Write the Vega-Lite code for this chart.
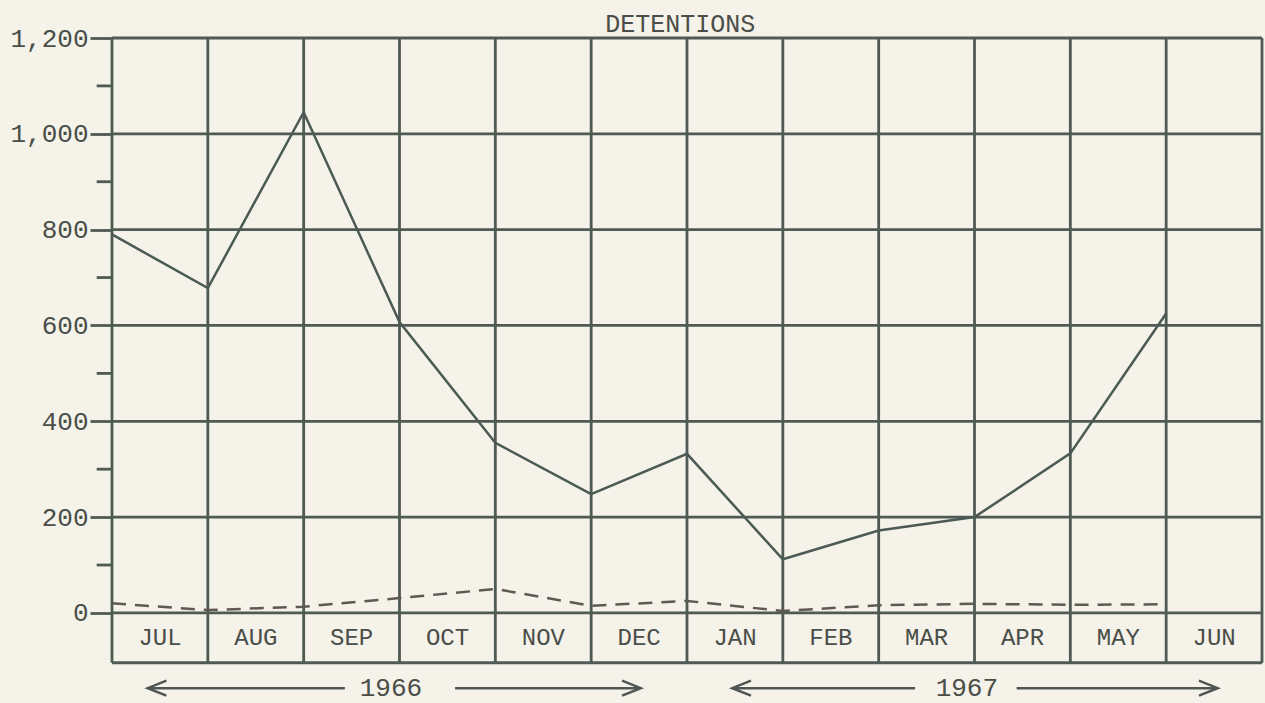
{
  "$schema": "https://vega.github.io/schema/vega-lite/v6.json",
  "autosize": "none",
  "width": 1150,
  "height": 665,
  "padding": {"left": 112, "top": 38, "right": 3, "bottom": 0},
  "background": "#f4f2e9",
  "config": {"view": {"stroke": null}},
  "datasets": {
    "months": [
      {"month": "JUL", "order": 0, "total": 790, "other": 20},
      {"month": "AUG", "order": 1, "total": 678, "other": 6},
      {"month": "SEP", "order": 2, "total": 1045, "other": 13},
      {"month": "OCT", "order": 3, "total": 607, "other": 31},
      {"month": "NOV", "order": 4, "total": 355, "other": 50},
      {"month": "DEC", "order": 5, "total": 248, "other": 15},
      {"month": "JAN", "order": 6, "total": 332, "other": 25},
      {"month": "FEB", "order": 7, "total": 112, "other": 4},
      {"month": "MAR", "order": 8, "total": 172, "other": 16},
      {"month": "APR", "order": 9, "total": 200, "other": 19},
      {"month": "MAY", "order": 10, "total": 333, "other": 17},
      {"month": "JUN", "order": 11, "total": 625, "other": 18}
    ],
    "vlines": [{"x": 0}, {"x": 1}, {"x": 2}, {"x": 3}, {"x": 4}, {"x": 5}, {"x": 6}, {"x": 7}, {"x": 8}, {"x": 9}, {"x": 10}, {"x": 11}, {"x": 12}],
    "hlines": [{"y": -104}, {"y": 0}, {"y": 200}, {"y": 400}, {"y": 600}, {"y": 800}, {"y": 1000}, {"y": 1200}],
    "minor": [{"y": 100}, {"y": 300}, {"y": 500}, {"y": 700}, {"y": 900}, {"y": 1100}]
  },
  "layer": [
    {
      "data": {"name": "vlines"},
      "mark": {"type": "rule", "color": "#4e5a53", "strokeWidth": 2.8},
      "encoding": {
        "x": {"field": "x", "type": "quantitative", "scale": {"domain": [0, 12], "nice": false, "zero": false}, "axis": null},
        "y": {"datum": -104, "type": "quantitative", "scale": {"domain": [-188, 1200], "nice": false, "zero": false}},
        "y2": {"datum": 1200}
      }
    },
    {
      "data": {"name": "hlines"},
      "mark": {"type": "rule", "color": "#4e5a53", "strokeWidth": 2.8},
      "encoding": {
        "x": {"datum": 0, "type": "quantitative"},
        "x2": {"datum": 12},
        "y": {"field": "y", "type": "quantitative"}
      }
    },
    {
      "data": {"name": "minor"},
      "mark": {"type": "rule", "color": "#4e5a53", "strokeWidth": 2.8},
      "encoding": {
        "x": {"datum": -0.16, "type": "quantitative"},
        "x2": {"datum": 0},
        "y": {"field": "y", "type": "quantitative"}
      }
    },
    {
      "data": {"name": "months"},
      "mark": {"type": "line", "color": "#5e5a52", "strokeWidth": 2.5, "strokeDash": [14, 9]},
      "encoding": {
        "x": {"field": "order", "type": "quantitative"},
        "y": {"field": "other", "type": "quantitative"}
      }
    },
    {
      "data": {"name": "months"},
      "mark": {"type": "line", "color": "#4b5a54", "strokeWidth": 2.5},
      "encoding": {
        "x": {"field": "order", "type": "quantitative"},
        "y": {"field": "total", "type": "quantitative",
          "axis": {"values": [0, 200, 400, 600, 800, 1000, 1200], "format": ",d", "title": null, "domain": false, "grid": false,
            "tickSize": 22, "tickWidth": 2.8, "tickColor": "#4e5a53", "labelPadding": 2, "labelOverlap": false,
            "labelFont": "Liberation Mono", "labelFontSize": 26, "labelColor": "#4a4d48"}}
      }
    },
    {
      "data": {"values": [{"label": "DETENTIONS", "pos": 5.93}]},
      "mark": {"type": "text", "font": "Liberation Mono", "fontSize": 25, "color": "#4a4d48", "baseline": "alphabetic", "align": "center"},
      "encoding": {
        "x": {"field": "pos", "type": "quantitative"},
        "y": {"datum": 1212, "type": "quantitative"},
        "text": {"field": "label"}
      }
    },
    {
      "data": {"name": "months"},
      "mark": {"type": "text", "font": "Liberation Mono", "fontSize": 24, "color": "#4a4d48", "dx": 48, "baseline": "middle", "align": "center"},
      "encoding": {
        "x": {"field": "order", "type": "quantitative"},
        "y": {"datum": -52, "type": "quantitative"},
        "text": {"field": "month"}
      }
    },
    {
      "data": {"values": [{"year": "1966", "pos": 2.91}, {"year": "1967", "pos": 8.92}]},
      "mark": {"type": "text", "font": "Liberation Mono", "fontSize": 26, "color": "#4a4d48", "baseline": "middle", "align": "center"},
      "encoding": {
        "x": {"field": "pos", "type": "quantitative"},
        "y": {"datum": -157, "type": "quantitative"},
        "text": {"field": "year"}
      }
    },
    {
      "data": {"values": [{"from": 0.4, "to": 2.43}, {"from": 3.58, "to": 5.49}, {"from": 6.5, "to": 8.38}, {"from": 9.44, "to": 11.51}]},
      "mark": {"type": "rule", "color": "#4f5552", "strokeWidth": 2.5},
      "encoding": {
        "x": {"field": "from", "type": "quantitative"},
        "x2": {"field": "to"},
        "y": {"datum": -157, "type": "quantitative"}
      }
    },
    {
      "data": {"values": [{"tip": 0.47}, {"tip": 6.57}]},
      "mark": {"type": "point", "shape": "M0.5,-0.4 L-0.5,0 L0.5,0.4", "filled": false, "size": 1400, "strokeWidth": 2.5, "color": "#4f5552", "opacity": 1},
      "encoding": {
        "x": {"field": "tip", "type": "quantitative"},
        "y": {"datum": -157, "type": "quantitative"}
      }
    },
    {
      "data": {"values": [{"tip": 5.42}, {"tip": 11.44}]},
      "mark": {"type": "point", "shape": "M-0.5,-0.4 L0.5,0 L-0.5,0.4", "filled": false, "size": 1400, "strokeWidth": 2.5, "color": "#4f5552", "opacity": 1},
      "encoding": {
        "x": {"field": "tip", "type": "quantitative"},
        "y": {"datum": -157, "type": "quantitative"}
      }
    }
  ]
}
